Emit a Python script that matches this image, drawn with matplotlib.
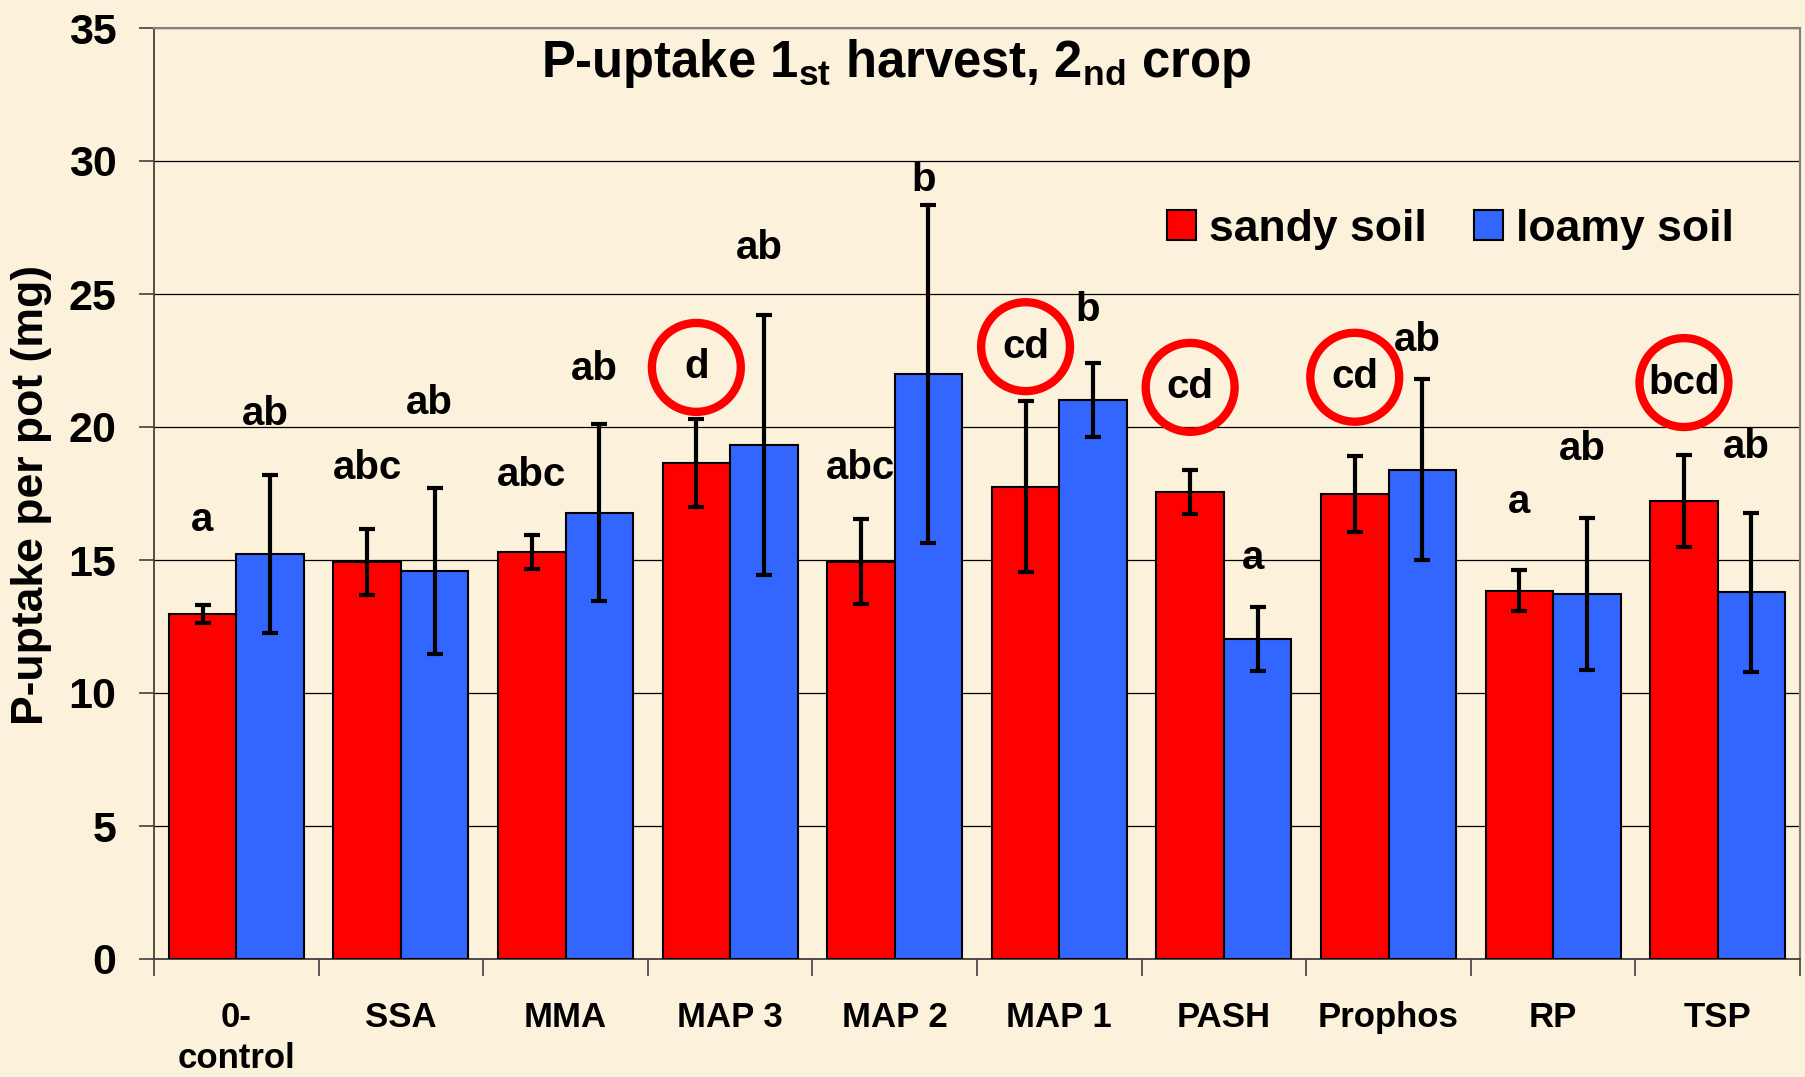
import numpy as np
import matplotlib
matplotlib.use("Agg")
import matplotlib.pyplot as plt
from matplotlib.patches import Patch

plt.rcParams['font.family'] = ['Liberation Sans', 'DejaVu Sans']
plt.rcParams['font.weight'] = 'bold'
plt.rcParams['mathtext.fontset'] = 'custom'
plt.rcParams['mathtext.rm'] = 'Liberation Sans:bold'
plt.rcParams['mathtext.bf'] = 'Liberation Sans:bold'

# data
categories = ['0-\ncontrol', 'SSA', 'MMA', 'MAP 3', 'MAP 2', 'MAP 1', 'PASH', 'Prophos', 'RP', 'TSP']
sandy = [12.96, 14.92, 15.30, 18.65, 14.94, 17.76, 17.55, 17.49, 13.85, 17.22]
sandy_err = [0.34, 1.23, 0.64, 1.65, 1.60, 3.20, 0.82, 1.42, 0.77, 1.72]
loamy = [15.23, 14.59, 16.78, 19.32, 21.99, 21.02, 12.04, 18.40, 13.73, 13.78]
loamy_err = [2.97, 3.13, 3.33, 4.88, 6.36, 1.38, 1.20, 3.40, 2.85, 2.98]

sandy_letters = ['a', 'abc', 'abc', 'd', 'abc', 'cd', 'cd', 'cd', 'a', 'bcd']
sandy_letter_y = [16.5, 18.45, 18.2, 22.24, 18.45, 23.02, 21.49, 21.87, 17.19, 21.67]
loamy_letters = ['ab', 'ab', 'ab', 'ab', 'b', 'b', 'a', 'ab', 'ab', 'ab']
loamy_letter_y = [20.5, 20.9, 22.19, 26.74, 29.29, 24.4, 15.06, 23.27, 19.17, 19.26]
circled = [False, False, False, True, False, True, True, True, False, True]

BG = '#FCF1DA'
RED = '#FF0000'
BLUE = '#3366FF'

fig = plt.figure(figsize=(18.06, 10.77), dpi=100)
fig.patch.set_facecolor(BG)
ax = fig.add_axes([154/1806, 1-959/1077, (1800-154)/1806, (959-28)/1077])
ax.set_facecolor('none')

x = np.arange(len(categories))
w = 0.41
ekw = dict(ecolor='black', elinewidth=3.0, capsize=6, capthick=3.0)
ax.bar(x - w/2, sandy, w, color=RED, edgecolor='black', linewidth=1.5, zorder=3,
       yerr=sandy_err, error_kw=ekw)
ax.bar(x + w/2, loamy, w, color=BLUE, edgecolor='black', linewidth=1.5, zorder=3,
       yerr=loamy_err, error_kw=ekw)

for i in range(len(categories)):
    ax.text(x[i] - w/2, sandy_letter_y[i], sandy_letters[i], ha='center', va='center',
            fontsize=29, fontweight='bold', zorder=5)
    ax.text(x[i] + w/2 - 0.03, loamy_letter_y[i], loamy_letters[i], ha='center', va='center',
            fontsize=29, fontweight='bold', zorder=5)
    if circled[i]:
        ax.scatter([x[i] - w/2], [sandy_letter_y[i]], s=64**2, marker='o', facecolors='none',
                   edgecolors=RED, linewidths=6, zorder=4)

ax.set_xlim(-0.5, len(categories) - 0.5)
ax.set_ylim(0, 35)
ax.set_yticks(np.arange(0, 36, 5))
ax.yaxis.grid(True, color='black', linewidth=0.9, zorder=0)
ax.set_axisbelow(True)
ax.tick_params(axis='y', labelsize=31, length=11, width=1.2, pad=16, color='#404040')
for lab in ax.get_yticklabels():
    lab.set_fontweight('bold')

ax.set_xticks(x)
ax.set_xticklabels(categories, fontsize=25, fontweight='bold', linespacing=1.32)
ax.tick_params(axis='x', which='major', length=0, pad=30)
ax.set_xticks(np.arange(-0.5, len(categories), 1), minor=True)
ax.tick_params(axis='x', which='minor', length=12, width=1.2, color='#404040')

for s in ['left', 'bottom']:
    ax.spines[s].set_color('#404040')
    ax.spines[s].set_linewidth(1.3)
for s in ['top', 'right']:
    ax.spines[s].set_color('#808080')
    ax.spines[s].set_linewidth(1.5)

fig.text(32/1806, 1-495/1077, 'P-uptake per pot (mg)', rotation=90, ha='center', va='center',
         fontsize=32, fontweight='bold')
fig.text(896/1806, 1-64/1077, r'P-uptake 1$_{\mathrm{st}}$ harvest, 2$_{\mathrm{nd}}$ crop',
         ha='center', va='center', fontsize=36.5, fontweight='bold')

handles = [Patch(facecolor=RED, edgecolor='black', linewidth=1.5, label='sandy soil'),
           Patch(facecolor=BLUE, edgecolor='black', linewidth=1.5, label='loamy soil')]
fig.legend(handles=handles, loc='center left', bbox_to_anchor=(1167/1806, 1-229/1077),
           ncol=2, frameon=False, prop=dict(size=32, weight='bold'),
           handlelength=0.65, handleheight=0.68, handletextpad=0.3, columnspacing=1.05,
           borderpad=0, borderaxespad=0)

fig.savefig('out.png', dpi=100, facecolor=BG)
